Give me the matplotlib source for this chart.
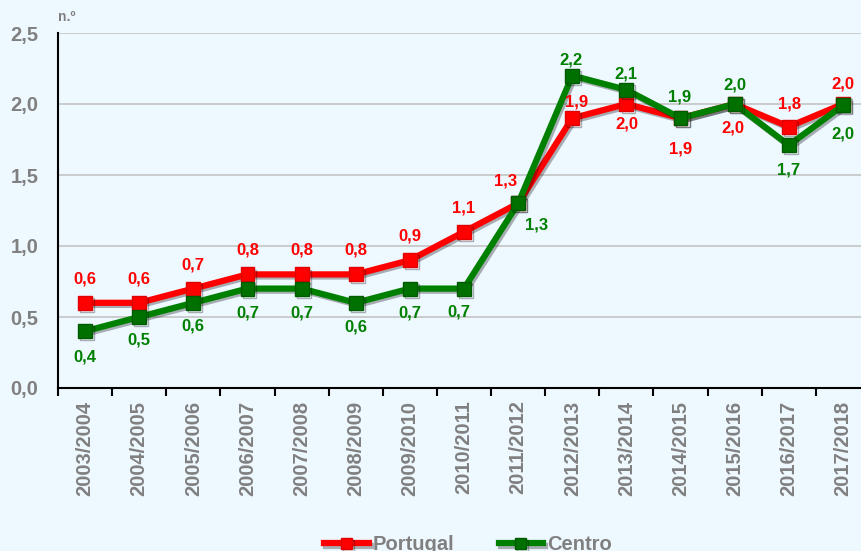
import matplotlib
matplotlib.use("Agg")
import matplotlib.pyplot as plt
import matplotlib.patheffects as pe
import numpy as np

# dados
anos = ["2003/2004", "2004/2005", "2005/2006", "2006/2007", "2007/2008",
        "2008/2009", "2009/2010", "2010/2011", "2011/2012", "2012/2013",
        "2013/2014", "2014/2015", "2015/2016", "2016/2017", "2017/2018"]
portugal = [0.6, 0.6, 0.7, 0.8, 0.8, 0.8, 0.9, 1.1, 1.3, 1.9, 2.0, 1.9, 2.0, 1.84, 2.0]
centro = [0.4, 0.5, 0.6, 0.7, 0.7, 0.6, 0.7, 0.7, 1.3, 2.2, 2.1, 1.9, 2.0, 1.71, 1.99]

# label offsets in pixels (dx, dy), positive dy = up
off_pt = [(0, 24)] * 8 + [(-13, 22), (4, 16), (0, -20), (0, -31), (-2, -24), (1, 23), (0, 20)]
off_ce = [(0, -26), (0, -23), (0, -23), (0, -24), (0, -24), (0, -24), (0, -24), (-5, -23),
          (18, -22), (-1, 16), (0, 16), (-1, 21), (0, 19), (0, -25), (0, -29)]

bg = "#EEF8FF"
grey = "#808080"
plt.rcParams["font.family"] = ["Liberation Sans", "DejaVu Sans"]
plt.rcParams["font.weight"] = "bold"

fig = plt.figure(figsize=(8.61, 5.51), dpi=100, facecolor=bg)
W, H = 861, 551
ax = fig.add_axes([58 / W, (H - 388) / H, 812 / W, 355 / H])
ax.set_facecolor(bg)

x = np.arange(len(anos))
shadow = [pe.SimpleLineShadow(offset=(1.5, -1.5), shadow_color="k", alpha=0.3), pe.Normal()]
ax.plot(x, portugal, color="#FF0000", lw=4.5, marker="s", ms=10,
        mfc="#FF0000", mec="#E00000", mew=1, label="Portugal", zorder=3,
        path_effects=shadow)
ax.plot(x, centro, color="#008000", lw=4.5, marker="s", ms=10,
        mfc="#007000", mec="#005A00", mew=1, label="Centro", zorder=4,
        path_effects=shadow)

for i in range(len(anos)):
    ax.annotate(f"{portugal[i]:.1f}".replace(".", ","), (x[i], portugal[i]),
                xytext=(off_pt[i][0] * 0.72, off_pt[i][1] * 0.72),
                textcoords="offset points", ha="center", va="center",
                color="#FF0000", fontsize=12, fontweight="bold", zorder=5)
    ax.annotate(f"{centro[i]:.1f}".replace(".", ","), (x[i], centro[i]),
                xytext=(off_ce[i][0] * 0.72, off_ce[i][1] * 0.72),
                textcoords="offset points", ha="center", va="center",
                color="#008000", fontsize=12, fontweight="bold", zorder=5)

ax.set_xlim(-0.5, len(anos) - 0.5)
ax.set_ylim(0, 2.5)
ax.set_yticks(np.arange(0, 2.51, 0.5))
ax.set_yticklabels([f"{v:.1f}".replace(".", ",") for v in np.arange(0, 2.51, 0.5)])
ax.set_xticks(x)
ax.set_xticklabels(anos, rotation=90)
ax.set_xticks(np.arange(-0.5, len(anos), 1), minor=True)
ax.tick_params(axis="x", which="major", length=0, pad=9, labelsize=14.5, labelcolor=grey)
ax.tick_params(axis="x", which="minor", length=6, width=1.5, direction="out", color="k")
ax.tick_params(axis="y", length=0, pad=14, labelsize=14.5, labelcolor=grey)
for lab in ax.get_xticklabels() + ax.get_yticklabels():
    lab.set_fontweight("bold")

ax.grid(axis="y", color="#C4C4C4", lw=1.2)
ax.set_axisbelow(True)
for s in ["top", "right"]:
    ax.spines[s].set_visible(False)
ax.spines["left"].set_linewidth(1.5)
ax.spines["bottom"].set_linewidth(1.5)

fig.text(58 / W, 1 - 17 / H, "n.º", color=grey, fontsize=10, fontweight="bold",
         ha="left", va="center")

leg = fig.legend(loc="center", bbox_to_anchor=(468 / W, 6 / H), ncol=2, frameon=False,
                 fontsize=14.5, handlelength=2.2, columnspacing=2.2, handletextpad=0.2,
                 markerscale=0.8)
for t in leg.get_texts():
    t.set_color(grey)
    t.set_fontweight("bold")

fig.savefig("out.png", dpi=100, facecolor=bg)
